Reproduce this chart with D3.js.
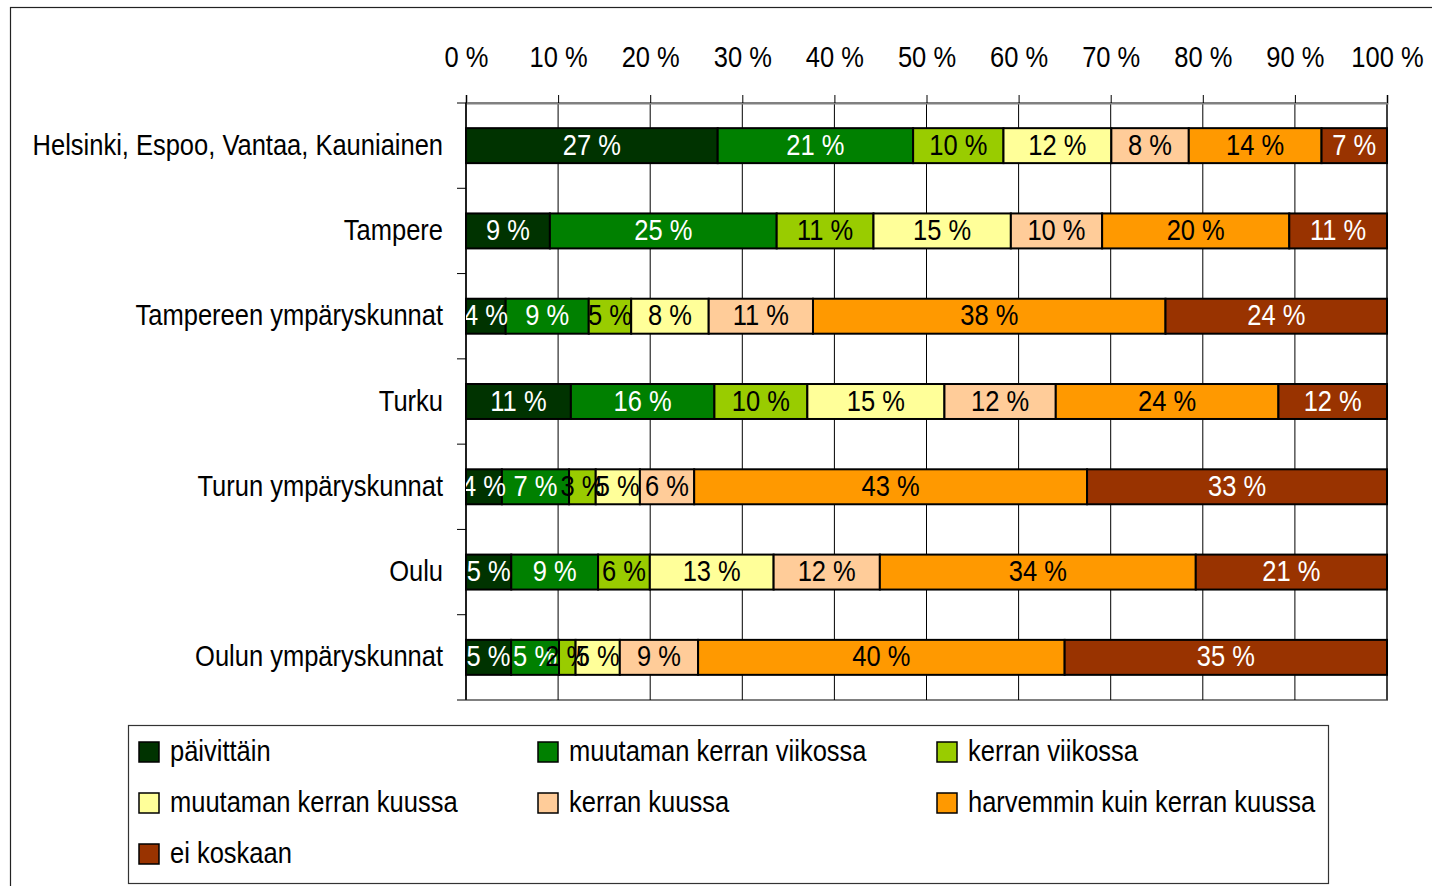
<!DOCTYPE html>
<html>
<head>
<meta charset="utf-8">
<script src="https://cdn.jsdelivr.net/npm/d3@7"></script>
<style>
  body { margin: 0; background: #fff; }
  svg text { font-family: "Liberation Sans", Arial, sans-serif; }
</style>
</head>
<body>
<div id="chart"></div>
<script>
// chart data (shares in %)
var regions = ["Helsinki, Espoo, Vantaa, Kauniainen", "Tampere", "Tampereen ympäryskunnat",
  "Turku", "Turun ympäryskunnat", "Oulu", "Oulun ympäryskunnat"];

var seriesNames = ["päivittäin", "muutaman kerran viikossa", "kerran viikossa",
  "muutaman kerran kuussa", "kerran kuussa", "harvemmin kuin kerran kuussa", "ei koskaan"];

var paivittain = [27.3, 9.1, 4.3, 11.4, 3.9, 4.9, 4.9];
var viikossaMuut = [21.2, 24.6, 9.0, 15.6, 7.3, 9.4, 5.2];
var viikossaKerran = [9.8, 10.5, 4.6, 10.1, 2.9, 5.6, 1.8];
var kuussaMuut = [11.7, 14.9, 8.4, 14.9, 4.8, 13.4, 4.8];
var kuussaKerran = [8.4, 9.9, 11.3, 12.1, 5.9, 11.5, 8.5];
var harvemmin = [14.4, 20.3, 38.2, 24.2, 42.7, 34.2, 39.8];
var eiKoskaan = [7.1, 10.6, 24.0, 11.8, 32.6, 20.7, 35.0];

var tickValues = [0, 0.1, 0.2, 0.3, 0.4, 0.5, 0.6, 0.7, 0.8, 0.9, 1];

var colors = ["#003300", "#008000", "#99cc00", "#ffff99", "#ffcc99", "#ff9900", "#993300"];
var labelColors = ["#fff", "#fff", "#000", "#000", "#000", "#000", "#fff"];

var allSeries = [paivittain, viikossaMuut, viikossaKerran, kuussaMuut, kuussaKerran, harvemmin, eiKoskaan];

// build rows for d3.stack
var rows = regions.map(function(r, i) {
  var row = { region: r };
  seriesNames.forEach(function(s, j) { row[s] = allSeries[j][i]; });
  return row;
});

var svgWidth = 1432;
var svgHeight = 886;
var fontSize = 30;
var narrow = 0.85; // squeeze Liberation Sans to look like a narrow face

var plot = { left: 466, right: 1387, top: 103, bottom: 700 };

var svg = d3.select("#chart")
  .append("svg")
  .attr("width", svgWidth)
  .attr("height", svgHeight);

// outer frame (runs off the right and bottom)
svg.append("rect")
  .attr("x", 10.5).attr("y", 7.5)
  .attr("width", 1500).attr("height", 1000)
  .attr("fill", "none")
  .attr("stroke", "#222")
  .attr("stroke-width", 1.2);

var x = d3.scaleLinear().domain([0, 1]).range([plot.left, plot.right]);

var y = d3.scaleBand()
  .domain(regions)
  .range([plot.top, plot.bottom])
  .paddingInner(0.59)
  .paddingOuter(0.295);

var stack = d3.stack().keys(seriesNames).offset(d3.stackOffsetExpand);
var stacked = stack(rows);

// plot frame
svg.append("rect")
  .attr("x", plot.left).attr("y", plot.top)
  .attr("width", plot.right - plot.left)
  .attr("height", plot.bottom - plot.top)
  .attr("fill", "none")
  .attr("stroke", "#808080")
  .attr("stroke-width", 2);

// vertical gridlines
svg.append("g")
  .selectAll("line")
  .data(tickValues.slice(1))
  .enter()
  .append("line")
  .attr("x1", d => x(d)).attr("x2", d => x(d))
  .attr("y1", plot.top).attr("y2", plot.bottom)
  .attr("stroke", "#000")
  .attr("stroke-width", 1);

// top axis
var topAxis = d3.axisTop(x)
  .tickValues(tickValues)
  .tickSize(8)
  .tickPadding(28)
  .tickFormat(d => Math.round(d * 100) + " %");

var xAxis = svg.append("g")
  .attr("transform", `translate(0, ${plot.top})`)
  .call(topAxis);

xAxis.attr("font-family", null).attr("font-size", null);
xAxis.select(".domain").attr("stroke", "#808080").attr("stroke-width", 2);
xAxis.selectAll(".tick line").attr("stroke", "#000");
xAxis.selectAll("text")
  .attr("font-size", fontSize)
  .attr("fill", "#000")
  .attr("transform", `scale(${narrow},1)`);

// left axis with ticks between categories
var step = y.step();
var boundaries = d3.range(regions.length + 1).map(i => plot.top + i * step);

svg.append("g")
  .selectAll("line")
  .data(boundaries)
  .enter()
  .append("line")
  .attr("x1", plot.left - 9).attr("x2", plot.left)
  .attr("y1", d => d).attr("y2", d => d)
  .attr("stroke", (d, i) => i === regions.length ? "#808080" : "#000")
  .attr("stroke-width", (d, i) => i === regions.length ? 2 : 1);

svg.append("line")
  .attr("x1", plot.left).attr("x2", plot.left)
  .attr("y1", plot.top).attr("y2", plot.bottom)
  .attr("stroke", "#000")
  .attr("stroke-width", 1.5);

svg.append("g")
  .selectAll("text")
  .data(regions)
  .enter()
  .append("text")
  .attr("transform", d => `translate(443, ${y(d) + y.bandwidth() / 2}) scale(${narrow},1)`)
  .attr("dy", "0.3em")
  .attr("text-anchor", "end")
  .attr("font-size", fontSize)
  .attr("fill", "#000")
  .text(d => d);

// clip for labels
svg.append("clipPath")
  .attr("id", "plotClip")
  .append("rect")
  .attr("x", plot.left).attr("y", plot.top)
  .attr("width", plot.right - plot.left)
  .attr("height", plot.bottom - plot.top);

// bars
var layers = svg.append("g")
  .selectAll("g")
  .data(stacked)
  .enter()
  .append("g")
  .attr("fill", (d, i) => colors[i]);

layers.selectAll("rect")
  .data(d => d)
  .enter()
  .append("rect")
  .attr("x", d => x(d[0]))
  .attr("y", d => y(d.data.region))
  .attr("width", d => x(d[1]) - x(d[0]))
  .attr("height", y.bandwidth())
  .attr("stroke", "#000")
  .attr("stroke-width", 2);

// value labels
var labelGroup = svg.append("g").attr("clip-path", "url(#plotClip)");

stacked.forEach(function(layer, i) {
  labelGroup.append("g")
    .selectAll("text")
    .data(layer)
    .enter()
    .append("text")
    .attr("transform", d => `translate(${(x(d[0]) + x(d[1])) / 2}, ${y(d.data.region) + y.bandwidth() / 2}) scale(${narrow},1)`)
    .attr("dy", "0.3em")
    .attr("text-anchor", "middle")
    .attr("font-size", fontSize)
    .attr("fill", labelColors[i])
    .text(d => Math.round(d.data[layer.key]) + " %");
});

// legend
var legend = svg.append("g");

legend.append("rect")
  .attr("x", 128.5).attr("y", 725.5)
  .attr("width", 1200).attr("height", 158)
  .attr("fill", "#fff")
  .attr("stroke", "#333")
  .attr("stroke-width", 1.2);

var colX = [139, 538, 937];
var rowY = [752, 803, 854];

var items = legend.selectAll(".item")
  .data(seriesNames)
  .enter()
  .append("g")
  .attr("class", "item")
  .attr("transform", (d, i) => `translate(${colX[i % 3]}, ${rowY[Math.floor(i / 3)]})`);

items.append("rect")
  .attr("x", 0).attr("y", -10)
  .attr("width", 20).attr("height", 20)
  .attr("fill", (d, i) => colors[i])
  .attr("stroke", "#000")
  .attr("stroke-width", 1.5);

items.append("text")
  .attr("transform", `translate(31, 0) scale(${narrow},1)`)
  .attr("dy", "0.3em")
  .attr("font-size", fontSize)
  .attr("fill", "#000")
  .text(d => d);
</script>
</body>
</html>
